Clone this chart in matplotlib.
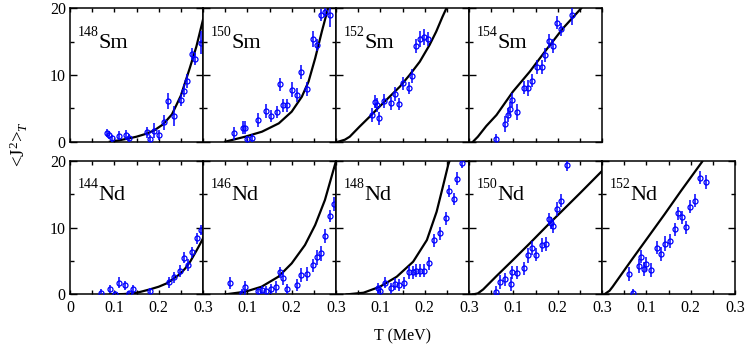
import matplotlib
matplotlib.use("Agg")
import matplotlib.pyplot as plt
from matplotlib.ticker import MultipleLocator

plt.rcParams['font.family'] = ['Liberation Serif', 'DejaVu Serif']
plt.rcParams['mathtext.fontset'] = 'custom'
plt.rcParams['mathtext.rm'] = 'Liberation Serif'
plt.rcParams['mathtext.it'] = 'Liberation Serif:italic'

# ---- data: T (MeV), <J^2>_T, error ; ct/cj = theory curve ----
sm148_t = [0.083, 0.089, 0.095, 0.111, 0.126, 0.132, 0.174, 0.181, 0.190, 0.200,
           0.211, 0.222, 0.235, 0.250, 0.257, 0.265, 0.275, 0.283, 0.295]
sm148_j = [1.35, 1.0, 0.5, 0.9, 1.0, 0.6, 1.4, 0.35, 1.65, 1.0,
           2.9, 6.1, 3.8, 6.25, 7.65, 9.1, 13.15, 12.4, 14.85]
sm148_err = [0.6, 0.6, 0.5, 0.7, 0.8, 0.6, 0.8, 0.6, 1.1, 0.8,
             1.1, 1.25, 1.5, 0.9, 1.0, 1.0, 0.9, 0.9, 1.75]
sm148_ct = [0.09, 0.11, 0.13, 0.15, 0.17, 0.19, 0.21, 0.23, 0.25, 0.27, 0.285, 0.30]
sm148_cj = [0.0, 0.2, 0.45, 0.75, 1.15, 1.7, 2.6, 4.1, 6.9, 11.0, 14.25, 18.3]

sm150_t = [0.071, 0.090, 0.095, 0.099, 0.110, 0.125, 0.142, 0.154, 0.167, 0.174, 0.181,
           0.189, 0.200, 0.211, 0.222, 0.235, 0.249, 0.257, 0.266, 0.275, 0.286]
sm150_j = [1.25, 2.1, 2.1, 0.35, 0.5, 3.25, 4.6, 3.8, 4.4, 8.6, 5.45,
           5.45, 7.8, 7.0, 10.45, 7.9, 15.35, 14.55, 19.0, 19.45, 19.0]
sm150_err = [1.0, 1.0, 1.0, 0.5, 0.6, 1.0, 1.0, 0.9, 0.9, 1.0, 1.0,
             1.0, 1.1, 1.0, 1.0, 1.1, 1.2, 0.9, 0.9, 0.8, 1.8]
sm150_ct = [0.05, 0.095, 0.133, 0.171, 0.200, 0.223, 0.238, 0.253, 0.268, 0.282]
sm150_cj = [0.0, 0.75, 1.5, 2.75, 4.5, 6.75, 9.0, 12.5, 16.5, 20.0]

sm152_t = [0.081, 0.089, 0.093, 0.098, 0.108, 0.123, 0.132, 0.141, 0.151, 0.165,
           0.172, 0.180, 0.189, 0.198, 0.208]
sm152_j = [4.0, 6.0, 5.5, 3.5, 6.1, 5.75, 7.15, 5.6, 8.75, 8.0,
           9.85, 14.35, 15.35, 15.65, 15.4]
sm152_err = [1.1, 1.0, 1.0, 1.0, 1.1, 1.0, 1.0, 0.9, 1.0, 0.9,
             1.1, 1.0, 1.2, 1.2, 1.0]
sm152_ct = [0.005, 0.020, 0.031, 0.053, 0.076, 0.098, 0.121, 0.144, 0.166, 0.189,
            0.211, 0.226, 0.240, 0.249]
sm152_cj = [0.0, 0.3, 0.75, 2.25, 3.75, 5.25, 6.75, 8.25, 10.0, 12.0,
            14.5, 16.5, 18.7, 20.0]

sm154_t = [0.061, 0.082, 0.088, 0.093, 0.098, 0.109, 0.123, 0.132, 0.141, 0.153,
           0.165, 0.172, 0.180, 0.189, 0.198, 0.208, 0.232]
sm154_j = [0.35, 2.65, 4.0, 4.9, 6.25, 4.5, 8.1, 8.0, 9.15, 11.2,
           11.2, 13.0, 15.1, 14.35, 17.85, 16.85, 19.05]
sm154_err = [0.8, 1.2, 1.0, 1.0, 1.0, 1.2, 1.0, 1.2, 1.0, 1.0,
             1.0, 1.0, 1.0, 1.0, 1.0, 1.0, 1.5]
sm154_ct = [0.009, 0.020, 0.039, 0.062, 0.099, 0.137, 0.174, 0.212, 0.253]
sm154_cj = [0.0, 0.75, 2.35, 4.0, 7.5, 10.5, 13.75, 17.0, 20.0]

nd144_t = [0.071, 0.091, 0.102, 0.111, 0.125, 0.134, 0.143, 0.181, 0.223, 0.235,
           0.249, 0.257, 0.267, 0.276, 0.286, 0.295]
nd144_j = [0.25, 0.75, 0.05, 1.75, 1.35, 0.15, 0.75, 0.45, 1.8, 2.55,
           3.55, 5.5, 4.4, 6.3, 8.4, 9.65]
nd144_err = [0.5, 0.6, 0.4, 0.8, 0.7, 0.4, 0.7, 0.5, 0.8, 0.8,
             0.9, 0.8, 0.9, 0.8, 0.8, 0.8]
nd144_ct = [0.09, 0.12, 0.143, 0.16, 0.18, 0.20, 0.218, 0.23, 0.248, 0.26,
            0.271, 0.286, 0.293, 0.30]
nd144_cj = [0.0, 0.05, 0.15, 0.4, 0.75, 1.15, 1.65, 2.2, 3.05, 3.9,
            4.9, 6.65, 7.5, 8.4]

nd146_t = [0.062, 0.089, 0.095, 0.123, 0.132, 0.141, 0.153, 0.165, 0.173, 0.181,
           0.189, 0.211, 0.221, 0.235, 0.249, 0.257, 0.266, 0.275, 0.286, 0.295]
nd146_j = [1.65, 0.25, 1.15, 0.5, 0.65, 0.55, 0.8, 1.15, 3.3, 2.4,
           0.75, 1.4, 2.9, 3.05, 4.35, 5.55, 6.15, 8.75, 11.75, 13.55]
nd146_err = [0.9, 0.5, 0.9, 0.5, 0.6, 0.7, 0.8, 0.9, 0.8, 1.0,
             0.8, 0.9, 1.1, 1.0, 1.0, 1.1, 1.1, 1.0, 0.9, 1.0]
nd146_ct = [0.05, 0.095, 0.132, 0.17, 0.20, 0.23, 0.253, 0.275, 0.29, 0.30]
nd146_cj = [0.0, 0.4, 1.15, 2.65, 4.65, 7.4, 10.4, 14.15, 17.65, 20.0]

nd148_t = [0.094, 0.099, 0.111, 0.123, 0.132, 0.141, 0.153, 0.165, 0.173, 0.180,
           0.189, 0.199, 0.209, 0.221, 0.235, 0.249, 0.256, 0.266, 0.274, 0.284]
nd148_j = [0.9, 0.5, 1.75, 0.9, 1.5, 1.4, 1.65, 3.3, 3.3, 3.55,
           3.55, 3.55, 4.65, 8.1, 9.15, 11.4, 15.5, 14.35, 17.35, 19.75]
nd148_err = [0.8, 0.6, 0.8, 0.8, 0.9, 0.9, 0.9, 1.0, 1.0, 1.0,
             1.0, 1.0, 1.0, 1.0, 1.0, 1.0, 0.9, 0.9, 1.0, 0.8]
nd148_ct = [0.024, 0.062, 0.099, 0.137, 0.174, 0.205, 0.227, 0.242, 0.253, 0.256]
nd148_cj = [0.0, 0.25, 1.15, 2.65, 4.9, 8.15, 12.4, 16.4, 19.4, 20.0]

nd150_t = [0.061, 0.069, 0.082, 0.094, 0.098, 0.109, 0.123, 0.132, 0.141, 0.152,
           0.165, 0.173, 0.180, 0.185, 0.189, 0.198, 0.208, 0.220]
nd150_j = [0.4, 1.85, 2.25, 1.55, 3.3, 3.25, 3.9, 5.85, 6.95, 5.95,
           7.4, 7.55, 11.25, 10.75, 10.25, 12.8, 14.05, 19.35]
nd150_err = [0.8, 1.0, 1.0, 1.0, 1.0, 1.0, 1.0, 1.1, 1.0, 1.0,
             1.0, 1.0, 0.9, 0.9, 1.0, 1.0, 1.0, 0.8]
nd150_ct = [0.009, 0.020, 0.032, 0.062, 0.099, 0.137, 0.174, 0.212, 0.250, 0.297, 0.30]
nd150_cj = [0.0, 0.15, 0.75, 2.75, 5.15, 7.65, 10.15, 12.65, 15.15, 18.3, 18.5]

nd152_t = [0.062, 0.071, 0.083, 0.089, 0.095, 0.100, 0.111, 0.124, 0.133, 0.142,
           0.153, 0.165, 0.172, 0.181, 0.189, 0.198, 0.209, 0.221, 0.234]
nd152_j = [3.05, 0.25, 4.25, 5.65, 3.8, 4.55, 3.65, 7.0, 6.05, 7.6,
           8.0, 9.75, 12.15, 11.55, 10.05, 13.15, 14.05, 17.5, 16.85]
nd152_err = [1.0, 0.5, 1.0, 1.0, 1.0, 1.1, 1.1, 1.0, 1.1, 1.1,
             1.0, 1.0, 1.0, 1.0, 1.0, 1.0, 1.0, 1.0, 1.1]
nd152_ct = [0.005, 0.017, 0.024, 0.065, 0.103, 0.141, 0.178, 0.226]
nd152_cj = [0.0, 0.55, 1.15, 5.0, 8.5, 12.0, 15.5, 19.9]

top_row = [("148", "Sm", sm148_t, sm148_j, sm148_err, sm148_ct, sm148_cj),
           ("150", "Sm", sm150_t, sm150_j, sm150_err, sm150_ct, sm150_cj),
           ("152", "Sm", sm152_t, sm152_j, sm152_err, sm152_ct, sm152_cj),
           ("154", "Sm", sm154_t, sm154_j, sm154_err, sm154_ct, sm154_cj)]
bottom_row = [("144", "Nd", nd144_t, nd144_j, nd144_err, nd144_ct, nd144_cj),
              ("146", "Nd", nd146_t, nd146_j, nd146_err, nd146_ct, nd146_cj),
              ("148", "Nd", nd148_t, nd148_j, nd148_err, nd148_ct, nd148_cj),
              ("150", "Nd", nd150_t, nd150_j, nd150_err, nd150_ct, nd150_cj),
              ("152", "Nd", nd152_t, nd152_j, nd152_err, nd152_ct, nd152_cj)]

W, H = 747, 351
fig = plt.figure(figsize=(W / 100, H / 100), dpi=100)

x0, pw, ph = 70, 133, 133.4


def panel(col, ytop, info, bottom):
    mass, el, t, j, err, ct, cj = info
    ax = fig.add_axes([(x0 + col * pw) / W, 1 - (ytop + ph) / H, pw / W, ph / H])
    ax.plot(ct, cj, color='black', lw=1.6, zorder=3)
    ax.errorbar(t, j, yerr=err, fmt='o', color='blue', mfc='none', mec='blue',
                ms=3.6, mew=0.9, elinewidth=1.1, capsize=0, zorder=4)
    ax.set_xlim(0, 0.3)
    ax.set_ylim(0, 20)
    ax.xaxis.set_major_locator(MultipleLocator(0.1))
    ax.xaxis.set_minor_locator(MultipleLocator(0.05))
    ax.yaxis.set_major_locator(MultipleLocator(10))
    ax.yaxis.set_minor_locator(MultipleLocator(5))
    ax.tick_params(which='both', direction='in', top=True, right=True,
                   labelsize=11.5, width=1.0)
    ax.tick_params(axis='y', which='major', length=5, pad=3)
    ax.tick_params(axis='y', which='minor', length=3)
    ax.tick_params(axis='x', which='both', length=2.8, pad=4)
    for s in ax.spines.values():
        s.set_linewidth(1.1)
    if col > 0:
        ax.set_yticklabels([])
    else:
        ax.set_yticks([0, 10, 20])
        ax.set_yticklabels(['0', '10', '20'])
    if bottom:
        ax.set_xticks([0, 0.1, 0.2, 0.3])
        ax.set_xticklabels(['0' if col == 0 else '', '0.1', '0.2', '0.3'])
    else:
        ax.set_xticklabels([])
    ax.text(0.055, 0.87, mass, transform=ax.transAxes, fontsize=10,
            ha='left', va='top')
    ax.text(0.215, 0.705, el, transform=ax.transAxes, fontsize=16,
            ha='left', va='baseline')
    return ax


for i, info in enumerate(top_row):
    panel(i, 8.3, info, False)
for i, info in enumerate(bottom_row):
    panel(i, 161, info, True)

fig.text(0.026, 0.59, r'<J$^2$>$_{T}$', rotation=90, fontsize=13.5,
         ha='center', va='center')
fig.text(402 / W, 1 - 336 / H, 'T (MeV)', fontsize=11.5, ha='center', va='center')

fig.savefig('out.png', dpi=100)
